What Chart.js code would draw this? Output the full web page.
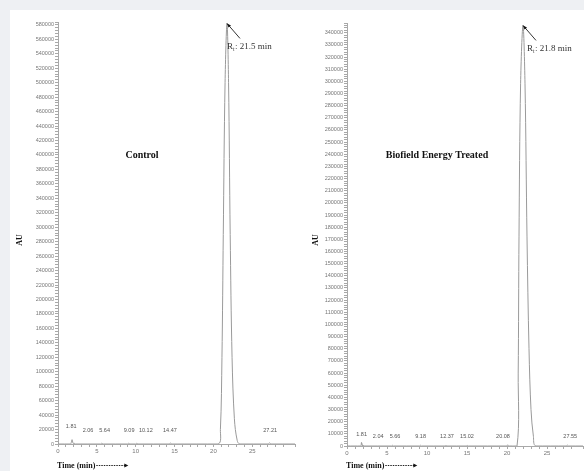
<!DOCTYPE html>
<html>
<head>
<meta charset="utf-8">
<script src="https://cdn.jsdelivr.net/npm/chart.js@4/dist/chart.umd.min.js"></script>
<style>
  html, body { margin: 0; padding: 0; background: #eef0f3; }
  #panel { position: absolute; left: 10px; top: 10px; width: 574px; height: 461px; background: #fff; }
  canvas { position: absolute; top: 10px; }
  #c1 { left: 10px; }
  #c2 { left: 305px; }
</style>
</head>
<body>
<div id="panel"></div>
<canvas id="c1" width="295" height="461"></canvas>
<canvas id="c2" width="279" height="461"></canvas>
<script>
// Control run: retention time (min) and detector response (AU)
var controlTime = [0, 1.6, 1.72, 1.81, 1.92, 2.0, 2.06, 2.2, 5.5, 5.64, 5.8, 8.95, 9.09, 9.25, 10.0, 10.12, 10.3, 14.3, 14.47, 14.65,
  20.6, 20.9, 21.1, 21.27, 21.5, 21.75, 21.95, 22.16, 22.4, 22.7, 23.06, 23.4, 27.05, 27.21, 27.4, 30.5];
var controlAU = [0, 0, 2500, 6000, 1500, 400, 1500, 0, 0, 1200, 0, 0, 1000, 0, 0, 900, 0, 0, 1200, 0,
  0, 20000, 120000, 290000, 500000, 582000, 500000, 290000, 120000, 35000, 5000, 0, 0, 1500, 0, 0];
var controlPeaks = ["1.81", "2.06", "5.64", "9.09", "10.12", "14.47", "27.21"];
var controlPeakLabelX = [1.7, 3.87, 6.0, 9.15, 11.3, 14.4, 27.3];
var controlPeakLabelY = [22000, 16000, 16000, 16000, 16000, 16000, 16000];

// Biofield Energy Treated run
var treatedTime = [0, 1.7, 1.81, 1.95, 2.04, 2.15, 5.55, 5.66, 5.8, 9.05, 9.18, 9.3, 12.25, 12.37, 12.5, 14.9, 15.02, 15.15, 19.95, 20.08, 20.2,
  21.25, 21.4, 21.5, 21.7, 22.0, 22.25, 22.5, 22.75, 23.0, 23.3, 23.6, 27.4, 27.55, 27.7, 29.5];
var treatedAU = [0, 0, 3000, 0, 800, 0, 0, 600, 0, 0, 600, 0, 0, 500, 0, 0, 500, 0, 0, 1000, 0,
  0, 60000, 172000, 298000, 346000, 298000, 172000, 80000, 30000, 8000, 0, 0, 700, 0, 0];
var treatedPeaks = ["1.81", "2.04", "5.66", "9.18", "12.37", "15.02", "20.08", "27.55"];
var treatedPeakLabelX = [1.83, 3.9, 6.0, 9.2, 12.5, 15.0, 19.5, 27.9];
var treatedPeakLabelY = [8300, 6600, 6600, 6600, 6600, 6600, 6600, 6600];

var xTickLabels = [0, 5, 10, 15, 20, 25];

function points(t, v) {
  return t.map(function (x, i) { return { x: x, y: v[i] }; });
}

function annotate(o) {
  return {
    id: 'notes',
    afterDraw: function (chart) {
      var ctx = chart.ctx, xs = chart.scales.x, ys = chart.scales.y;
      ctx.save();
      // small peak labels
      ctx.fillStyle = '#555';
      ctx.font = '5.5px "Liberation Sans", Arial';
      ctx.textAlign = 'center';
      ctx.textBaseline = 'alphabetic';
      o.peaks.forEach(function (p, i) {
        ctx.fillText(p, xs.getPixelForValue(o.labelX[i]), ys.getPixelForValue(o.labelY[i]));
      });
      // retention time arrow
      var ax = xs.getPixelForValue(o.apexX), ay = ys.getPixelForValue(o.apexY);
      ctx.strokeStyle = '#333';
      ctx.lineWidth = 1;
      ctx.beginPath();
      ctx.moveTo(ax, ay);
      ctx.lineTo(ax + 13, ay + 15);
      ctx.stroke();
      ctx.fillStyle = '#111';
      ctx.beginPath();
      ctx.moveTo(ax, ay);
      ctx.lineTo(ax + 4, ay + 2);
      ctx.lineTo(ax + 1.5, ay + 4);
      ctx.closePath();
      ctx.fill();
      ctx.fillStyle = '#333';
      ctx.textAlign = 'left';
      ctx.font = '9px "Liberation Serif", serif';
      var tx = ax + o.rtDx, ty = ay + 26;
      ctx.fillText('R', tx, ty);
      var w = ctx.measureText('R').width;
      ctx.font = '5.5px "Liberation Serif", serif';
      ctx.fillText('t', tx + w, ty + 2);
      ctx.font = '9px "Liberation Serif", serif';
      ctx.fillText(': ' + o.rt, tx + w + 2, ty);
      // panel title
      ctx.fillStyle = '#111';
      ctx.font = 'bold 10px "Liberation Serif", serif';
      ctx.textAlign = 'center';
      ctx.fillText(o.title, o.titleX, 148);
      // axis titles
      ctx.font = 'bold 8px "Liberation Serif", serif';
      ctx.textAlign = 'left';
      var lx = chart.chartArea.left - 1;
      ctx.fillText('Time (min)', lx, 458);
      var tw = ctx.measureText('Time (min)').width;
      ctx.strokeStyle = '#222';
      ctx.setLineDash([1.5, 1]);
      ctx.beginPath();
      ctx.moveTo(lx + tw + 1, 455.5);
      ctx.lineTo(lx + tw + 30, 455.5);
      ctx.stroke();
      ctx.setLineDash([]);
      ctx.beginPath();
      ctx.moveTo(lx + tw + 33, 455.5);
      ctx.lineTo(lx + tw + 29, 453.5);
      ctx.lineTo(lx + tw + 29, 457.5);
      ctx.closePath();
      ctx.fill();
      ctx.save();
      ctx.translate(o.auX, 230);
      ctx.rotate(-Math.PI / 2);
      ctx.textAlign = 'center';
      ctx.fillText('AU', 0, 0);
      ctx.restore();
      ctx.restore();
    }
  };
}

function makeChart(id, o) {
  return new Chart(document.getElementById(id), {
    type: 'line',
    data: {
      datasets: [{
        data: points(o.time, o.au),
        borderColor: '#9a9a9a',
        borderWidth: 1,
        pointRadius: 0,
        tension: 0.35,
        fill: false
      }]
    },
    options: {
      responsive: false,
      animation: false,
      layout: { padding: { top: o.top, right: o.right, bottom: 0, left: 0 } },
      plugins: { legend: { display: false }, tooltip: { enabled: false } },
      scales: {
        x: {
          type: 'linear',
          min: 0,
          max: o.xMax,
          afterFit: function (s) { s.height = o.xAxisHeight; },
          border: { color: '#a8a8a8', width: 1 },
          grid: { drawOnChartArea: false, tickLength: 3, color: '#a8a8a8' },
          ticks: {
            stepSize: 1,
            autoSkip: false,
            maxRotation: 0,
            padding: 1,
            color: '#777',
            font: { size: 6, family: '"Liberation Sans", Arial' },
            callback: function (v) { return xTickLabels.indexOf(v) >= 0 ? String(v) : ''; }
          }
        },
        y: {
          min: 0,
          max: o.yMax,
          afterFit: function (s) { s.width = o.yAxisWidth; },
          border: { color: '#a8a8a8', width: 1 },
          grid: { drawOnChartArea: false, tickLength: 3, color: '#a8a8a8' },
          ticks: {
            stepSize: o.minor,
            autoSkip: false,
            maxTicksLimit: 1000,
            padding: 1,
            color: '#777',
            font: { size: 5.5, family: '"Liberation Sans", Arial' },
            callback: function (v) { return v % o.major === 0 ? String(v) : ''; }
          }
        }
      }
    },
    plugins: [annotate(o)]
  });
}

makeChart('c1', {
  time: controlTime, au: controlAU, peaks: controlPeaks, labelX: controlPeakLabelX, labelY: controlPeakLabelY,
  xMax: 30.5, yMax: 584000, major: 20000, minor: 4000, top: 12, right: 10, xAxisHeight: 27, yAxisWidth: 48,
  apexX: 21.75, apexY: 582000, rt: '21.5 min', rtDx: 0, title: 'Control', titleX: 132, auX: 12
});
makeChart('c2', {
  time: treatedTime, au: treatedAU, peaks: treatedPeaks, labelX: treatedPeakLabelX, labelY: treatedPeakLabelY,
  xMax: 29.5, yMax: 348000, major: 10000, minor: 2000, top: 13, right: 1, xAxisHeight: 25, yAxisWidth: 42,
  apexX: 22.0, apexY: 346000, rt: '21.8 min', rtDx: 4, title: 'Biofield Energy Treated', titleX: 132, auX: 13
});
</script>
</body>
</html>
